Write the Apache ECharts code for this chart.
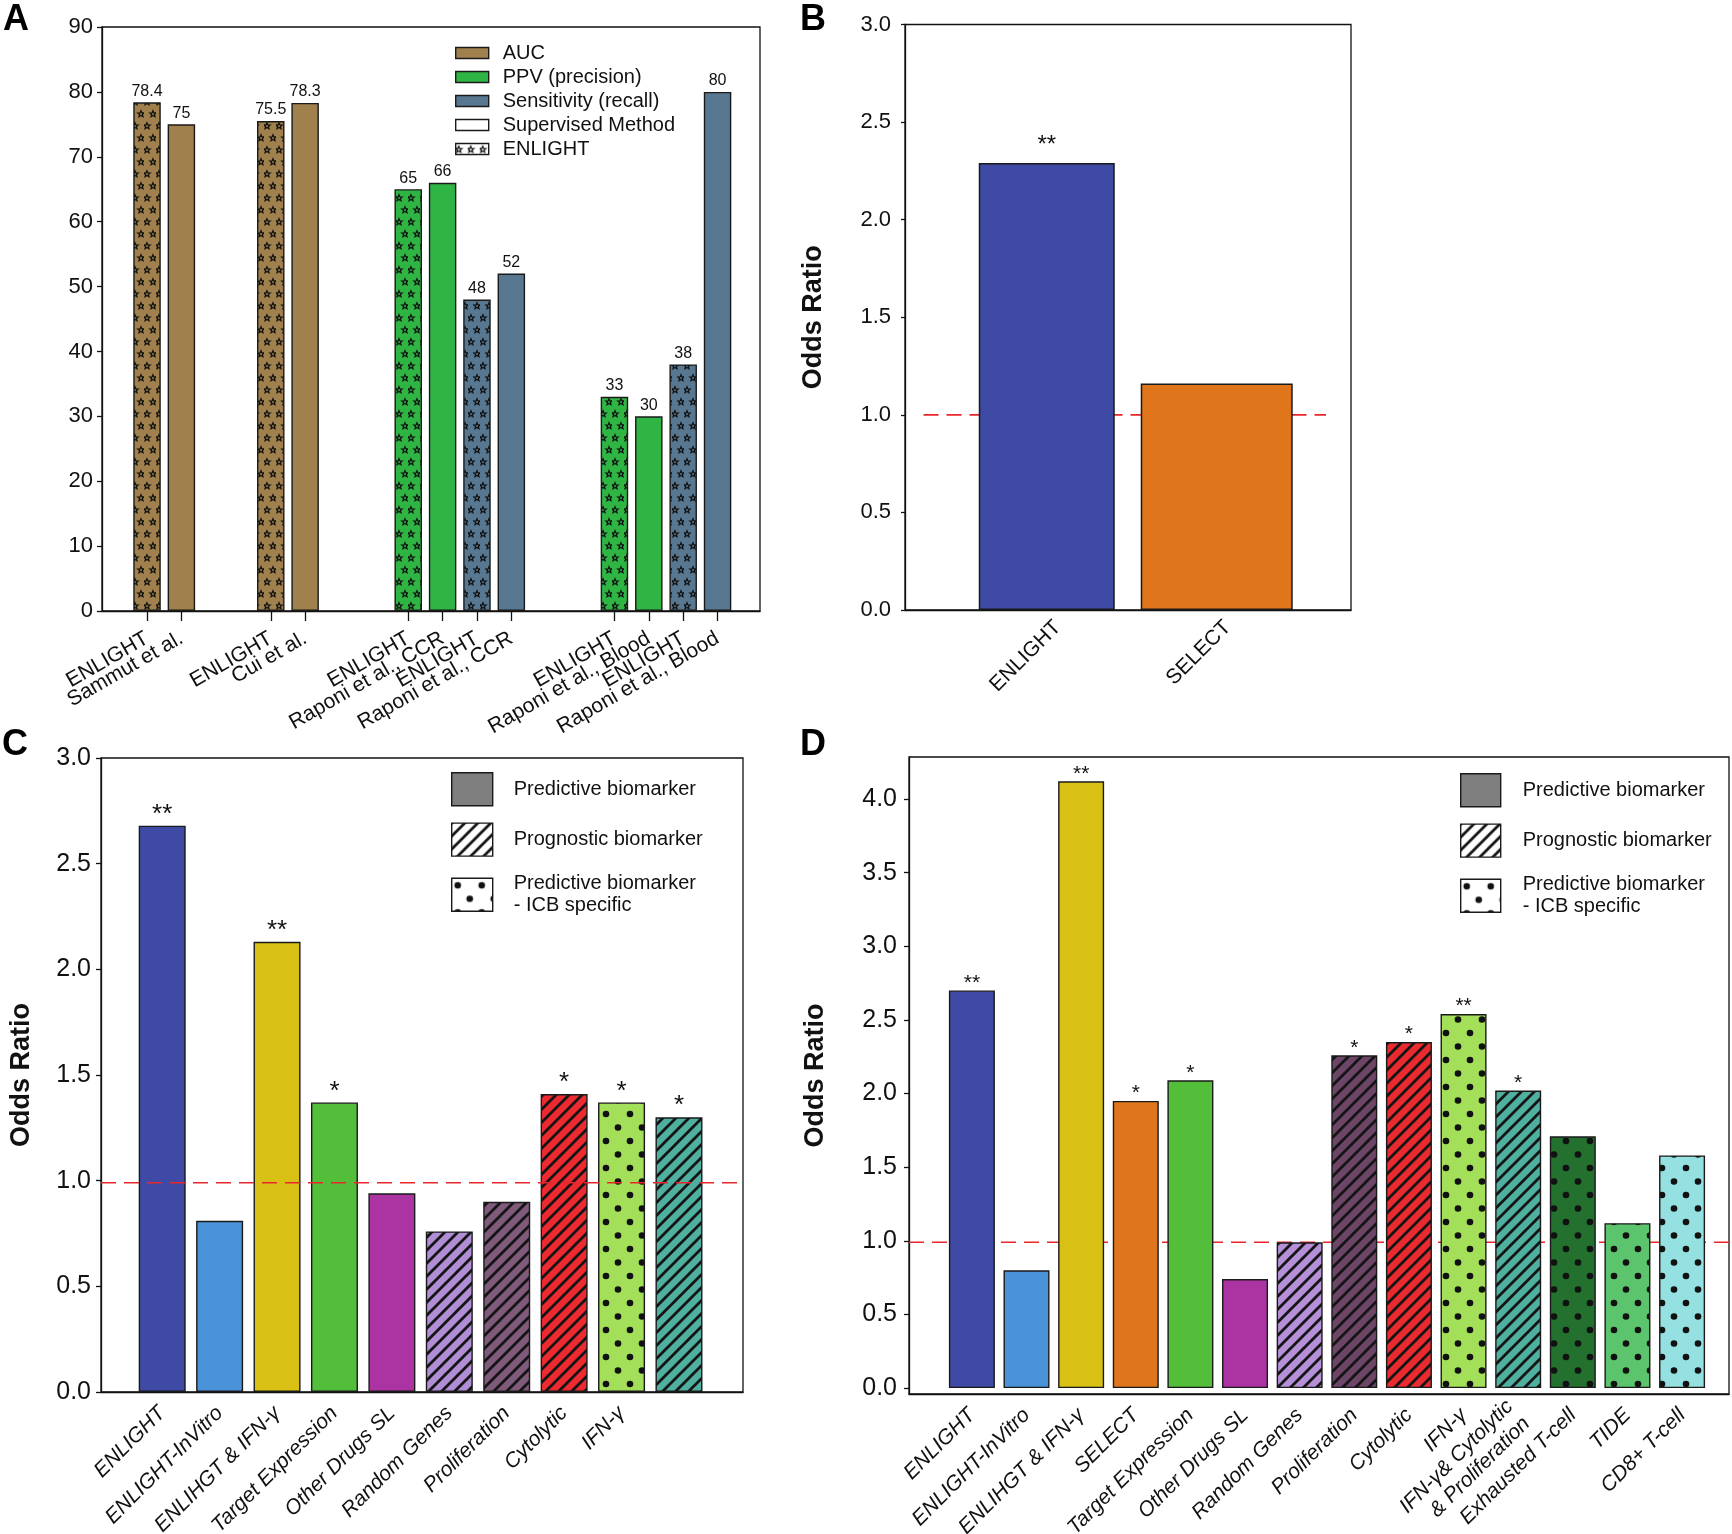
<!DOCTYPE html>
<html><head><meta charset="utf-8">
<script src="https://cdn.jsdelivr.net/npm/echarts@6/dist/echarts.min.js"></script>
<style>html,body{margin:0;padding:0;background:#fff}#chart{width:1732px;height:1534px}</style>
</head><body><div id="chart"></div>
<script>
// ---------------- DATA ----------------
// Panel A
const labelsA = ['ENLIGHT','Sammut et al.','ENLIGHT','Cui et al.','ENLIGHT','Raponi et al., CCR','ENLIGHT','Raponi et al., CCR','ENLIGHT','Raponi et al., Blood','ENLIGHT','Raponi et al., Blood'];
const metricA = ['AUC','AUC','AUC','AUC','PPV (precision)','PPV (precision)','Sensitivity (recall)','Sensitivity (recall)','PPV (precision)','PPV (precision)','Sensitivity (recall)','Sensitivity (recall)'];
const valuesA = [78.4, 75, 75.5, 78.3, 65, 66, 48, 52, 33, 30, 38, 80];
const enlightA = [true,false,true,false,true,false,true,false,true,false,true,false];
const metricsA = ['AUC','PPV (precision)','Sensitivity (recall)'];
const legendA = ['AUC','PPV (precision)','Sensitivity (recall)','Supervised Method','ENLIGHT'];
// Panel B
const labelsB = ['ENLIGHT','SELECT'];
const valuesB = [2.29, 1.16];
const sigB = ['**',''];
// Panel C
const labelsC = ['ENLIGHT','ENLIGHT-InVitro','ENLIHGT & IFN-\u03b3','Target Expression','Other Drugs SL','Random Genes','Proliferation','Cytolytic','IFN-\u03b3'];
const valuesC = [2.68, 0.81, 2.13, 1.37, 0.94, 0.76, 0.90, 1.41, 1.37, 1.30];
const sigC = ['**','','**','*','','','','*','*','*'];
const kindC = ['solid','solid','solid','solid','solid','hatch','hatch','hatch','dots','hatch'];
// Panel D
const labelsD = ['ENLIGHT','ENLIGHT-InVitro','ENLIHGT & IFN-\u03b3','SELECT','Target Expression','Other Drugs SL','Random Genes','Proliferation','Cytolytic','IFN-\u03b3','IFN-\u03b3& Cytolytic\n& Proliferation','Exhausted T-cell','TIDE','CD8+ T-cell'];
const valuesD = [2.70, 0.80, 4.12, 1.95, 2.09, 0.74, 0.99, 2.26, 2.35, 2.54, 2.02, 1.71, 1.12, 1.58];
const sigD = ['**','','**','*','*','','','*','*','**','*','','',''];
const kindD = ['solid','solid','solid','solid','solid','solid','hatch','hatch','hatch','dots','hatch','dots','dots','dots'];
const legendCD = ['Predictive biomarker','Prognostic biomarker','Predictive biomarker\n- ICB specific'];
// axis ticks / reference lines
const ticksA = [0,10,20,30,40,50,60,70,80,90];
const ticksOR = [0,0.5,1.0,1.5,2.0,2.5,3.0];
const ticksD = [0,0.5,1.0,1.5,2.0,2.5,3.0,3.5,4.0];
const refB = 1.0, refC = 0.99, refD = 0.99;

// ---------------- LAYOUT / STYLE ----------------
const slotA = [0,1,3.6,4.6,7.6,8.6,9.6,10.6,13.6,14.6,15.6,16.6];
const rangeA = [-1.31, 17.835];
const rangeB = [-0.834, 1.79];
const labelShiftB = 0.065;
const lineSpanB = [-0.725, 1.643];
const rangeC = [-1.066, 10.115];
const rangeD = [-1.151, 13.859];
const barWB = [136, 152];
const colorA = {'AUC':'#a0804c','PPV (precision)':'#2fb544','Sensitivity (recall)':'#587891'};
const colorsB = ['#3f4aa5','#df761b'];
const colorsC = ['#3f4aa5','#4a93d8','#d8c114','#52be3a','#ac34a2','#b18dd6','#7f5a7b','#ec2a2f','#a4df59','#4fb09f'];
const colorsD = ['#3f4aa5','#4a93d8','#d8c114','#df761b','#52be3a','#ac34a2','#b590d8','#6c4567','#e92a2f','#a4df59','#4fb09f','#23702f','#5cc46c','#95e0e0'];
const F = "'Liberation Sans', Arial, sans-serif";
const EDGE = '#1a1a1a';

function tile(w,h,bg,draw){
  const c=document.createElement('canvas'); c.width=w; c.height=h;
  const g=c.getContext('2d'); g.fillStyle=bg; g.fillRect(0,0,w,h); draw(g); return c;
}
const cache = {};
function hatch(bg){
  const k='h'+bg; if(cache[k]) return cache[k];
  return cache[k] = {image: tile(13,13,bg,g=>{
    g.strokeStyle='#151515'; g.lineWidth=2.8; g.beginPath();
    g.moveTo(-1,14); g.lineTo(14,-1);
    g.moveTo(-3,3); g.lineTo(3,-3);
    g.moveTo(10,16); g.lineTo(16,10);
    g.stroke();
  }), repeat:'repeat'};
}
function dots(bg){
  const k='d'+bg; if(cache[k]) return cache[k];
  return cache[k] = {image: tile(24,27,bg,g=>{
    g.fillStyle='#111';
    [[6,7],[18,20.5]].forEach(([x,y])=>{g.beginPath(); g.arc(x,y,3.3,0,2*Math.PI); g.fill();});
  }), repeat:'repeat'};
}
function stars(bg){
  const k='s'+bg; if(cache[k]) return cache[k];
  return cache[k] = {image: tile(12,24,bg,g=>{
    g.strokeStyle='#111'; g.lineWidth=1.15;
    [[3,6],[9,18]].forEach(([cx,cy])=>{
      g.beginPath();
      for(let j=0;j<10;j++){const r=j%2?1.45:3.4; const a=-Math.PI/2+j*Math.PI/5;
        const x=cx+r*Math.cos(a), y=cy+r*Math.sin(a); j?g.lineTo(x,y):g.moveTo(x,y);}
      g.closePath(); g.stroke();
    });
  }), repeat:'repeat'};
}
function fill(kind,c){ return kind==='hatch'?hatch(c):kind==='dots'?dots(c):c; }
function idxOf(arr,v){ for(let i=0;i<arr.length;i++){ if(Math.abs(arr[i]-v)<1e-6) return i;} return -1; }

const axisLineS = {show:true, onZero:false, lineStyle:{color:'#111', width:1.3}};
const tickS = (len)=>({show:true, length:len, inside:false, lineStyle:{color:'#111', width:1.3}});
const yLab = (fs, margin, dec)=>({fontSize:fs, color:'#111', fontFamily:F, margin:margin, formatter:v=>dec?Number(v).toFixed(1):String(v)});
const nameS = {fontSize:27, fontWeight:'bold', color:'#111', fontFamily:F};

const grid = [
  {left:102, top:27, width:658, height:584},
  {left:905, top:24.5, width:446, height:585.5},
  {left:101, top:758, width:642, height:634},
  {left:909, top:757, width:820, height:637}
].map(g=>Object.assign({show:true, borderColor:'#111', borderWidth:1.3, backgroundColor:'transparent', containLabel:false, outerBoundsMode:'none'}, g));

// label positions padded with empty labels at the axis ends (keeps every real label visible)
const labelPosA = [rangeA[0]].concat(slotA, [rangeA[1]]);
const labelPosB = labelsB.map((_,i)=>i+labelShiftB);
const xLabBase = {showMinLabel:true, showMaxLabel:true, hideOverlap:false, color:'#111', fontFamily:F};
const xAxis = [
  {gridIndex:0, type:'value', min:rangeA[0], max:rangeA[1], splitLine:{show:false}, axisLine:axisLineS,
   axisTick:Object.assign(tickS(10),{customValues:slotA}),
   axisLabel:Object.assign({}, xLabBase, {customValues:labelPosA, formatter:v=>labelsA[idxOf(slotA,v)]||'', rotate:30, margin:26, fontSize:21})},
  {gridIndex:1, type:'value', min:rangeB[0], max:rangeB[1], splitLine:{show:false}, axisLine:axisLineS, axisTick:{show:false},
   axisLabel:Object.assign({}, xLabBase, {customValues:labelPosB, formatter:v=>labelsB[idxOf(labelPosB,v)]||'', rotate:45, margin:14, fontSize:21})},
  {gridIndex:1, type:'value', min:rangeB[0], max:rangeB[1], show:false},
  {gridIndex:2, type:'value', min:rangeC[0], max:rangeC[1], splitLine:{show:false}, axisLine:axisLineS, axisTick:{show:false},
   axisLabel:Object.assign({}, xLabBase, {customValues:labelsC.map((_,i)=>i), formatter:v=>labelsC[Math.round(v)]||'', rotate:45, margin:18, fontSize:21, fontStyle:'italic'})},
  {gridIndex:3, type:'value', min:rangeD[0], max:rangeD[1], splitLine:{show:false}, axisLine:axisLineS, axisTick:{show:false},
   axisLabel:Object.assign({}, xLabBase, {customValues:labelsD.map((_,i)=>i), formatter:v=>labelsD[Math.round(v)]||'', rotate:45, margin:18, fontSize:21, fontStyle:'italic', lineHeight:24})}
];
const yAxis = [
  {gridIndex:0, type:'value', min:0, max:90, interval:10, splitLine:{show:false}, axisLine:axisLineS, axisTick:tickS(5), axisLabel:yLab(22,9,false)},
  {gridIndex:1, type:'value', min:0, max:3, interval:0.5, splitLine:{show:false}, axisLine:axisLineS, axisTick:tickS(4), axisLabel:yLab(22,14,true),
   name:'Odds Ratio', nameLocation:'middle', nameGap:78, nameTextStyle:nameS},
  {gridIndex:2, type:'value', min:0, max:3, interval:0.5, splitLine:{show:false}, axisLine:axisLineS, axisTick:tickS(5), axisLabel:yLab(25,10,true),
   name:'Odds Ratio', nameLocation:'middle', nameGap:66, nameTextStyle:nameS},
  {gridIndex:3, type:'value', min:-0.04, max:4.285, splitLine:{show:false}, axisLine:axisLineS,
   axisTick:Object.assign(tickS(5),{customValues:ticksD}), axisLabel:Object.assign(yLab(25,12,true),{customValues:ticksD}),
   name:'Odds Ratio', nameLocation:'middle', nameGap:80, nameTextStyle:nameS}
];

const series = [];
// Panel A bars
metricsA.forEach(m=>{
  series.push({type:'bar', name:m, xAxisIndex:0, yAxisIndex:0, barWidth:27.5, barGap:'-100%',
    itemStyle:{color:colorA[m], borderColor:EDGE, borderWidth:1.4},
    label:{show:true, position:'top', distance:3, fontSize:16, color:'#111', fontFamily:F, formatter:p=>String(p.value[1])},
    data: valuesA.map((v,i)=>i).filter(i=>metricA[i]===m).map(i=>({
      value:[slotA[i], valuesA[i]],
      itemStyle: enlightA[i] ? {color: stars(colorA[m])} : undefined}))
  });
});
// legend-only series (A)
series.push({type:'bar', name:'Supervised Method', xAxisIndex:0, yAxisIndex:0, barWidth:27.5, barGap:'-100%', data:[],
  itemStyle:{color:'#ffffff', borderColor:EDGE, borderWidth:1.4}});
series.push({type:'bar', name:'ENLIGHT', xAxisIndex:0, yAxisIndex:0, barWidth:27.5, barGap:'-100%', data:[],
  itemStyle:{color:stars('#ffffff'), borderColor:EDGE, borderWidth:1.4}});
// legend-only series (C/D)
[['#7f7f7f'],[hatch('#ffffff')],[dots('#ffffff')]].forEach((c,i)=>{
  series.push({type:'bar', name:legendCD[i], xAxisIndex:0, yAxisIndex:0, barWidth:27.5, barGap:'-100%', data:[],
    itemStyle:{color:c[0], borderColor:EDGE, borderWidth:1.4}});
});
// Panel B
series.push({type:'line', xAxisIndex:1, yAxisIndex:1, data:[[lineSpanB[0],refB],[lineSpanB[1],refB]], symbol:'none', silent:true, z:1,
  lineStyle:{color:'#e8262b', width:1.6, type:[15,8]}});
labelsB.forEach((lab,i)=>{
  series.push({type:'bar', name:'B '+lab, xAxisIndex:1+i, yAxisIndex:1, barWidth:barWB[i], z:2,
    itemStyle:{color:colorsB[i], borderColor:EDGE, borderWidth:1.5},
    label:{show:true, position:'top', distance:6, fontSize:24, color:'#111', fontFamily:F, formatter:()=>sigB[i]},
    data:[[i, valuesB[i]]]});
});
// Panel C
series.push({type:'bar', name:'C', xAxisIndex:3, yAxisIndex:2, barWidth:47, z:2,
  itemStyle:{borderColor:EDGE, borderWidth:1.4},
  label:{show:true, position:'top', distance:-2, fontSize:26, color:'#111', fontFamily:F, formatter:p=>sigC[p.dataIndex]},
  data: valuesC.map((v,i)=>({value:[i,v], itemStyle:{color:fill(kindC[i], colorsC[i])}}))});
series.push({type:'line', xAxisIndex:3, yAxisIndex:2, data:[[rangeC[0],refC],[rangeC[1],refC]], symbol:'none', silent:true, z:5,
  lineStyle:{color:'#e8262b', width:1.6, type:[15,8]}});
// Panel D
series.push({type:'line', xAxisIndex:4, yAxisIndex:3, data:[[rangeD[0],refD],[rangeD[1],refD]], symbol:'none', silent:true, z:1,
  lineStyle:{color:'#e8262b', width:1.6, type:[15,8]}});
series.push({type:'bar', name:'D', xAxisIndex:4, yAxisIndex:3, barWidth:46, z:2,
  itemStyle:{borderColor:EDGE, borderWidth:1.4},
  label:{show:true, position:'top', distance:-3, fontSize:21, color:'#111', fontFamily:F, formatter:p=>sigD[p.dataIndex]},
  data: valuesD.map((v,i)=>({value:[i,v], itemStyle:{color:fill(kindD[i], colorsD[i])}}))});

const legendBase = {orient:'vertical', icon:'rect', selectedMode:false, padding:0,
  itemStyle:{borderColor:EDGE, borderWidth:1.4}};
const legend = [
  Object.assign({}, legendBase, {data:legendA, left:455, top:43, itemWidth:33, itemHeight:11, itemGap:4,
    textStyle:{fontSize:20, lineHeight:20, color:'#111', fontFamily:F, padding:[0,0,0,9]}}),
  Object.assign({}, legendBase, {data:legendCD, left:451, top:772, itemWidth:41, itemHeight:33, itemGap:16,
    textStyle:{fontSize:20, lineHeight:22, color:'#111', fontFamily:F, padding:[0,0,0,16]}}),
  Object.assign({}, legendBase, {data:legendCD, left:1460, top:773, itemWidth:40, itemHeight:33, itemGap:16,
    textStyle:{fontSize:20, lineHeight:22, color:'#111', fontFamily:F, padding:[0,0,0,17]}})
];

const letter = (t,x,y)=>({type:'text', left:x, top:y, style:{text:t, font:"bold 36px 'Liberation Sans', Arial, sans-serif", fill:'#000'}});

const chart = echarts.init(document.getElementById('chart'), null, {renderer:'canvas'});
chart.setOption({
  animation:false, backgroundColor:'#ffffff',
  grid, xAxis, yAxis, series, legend,
  graphic:[letter('A',3,2), letter('B',800,2), letter('C',2,727), letter('D',800,727)]
});
</script></body></html>
